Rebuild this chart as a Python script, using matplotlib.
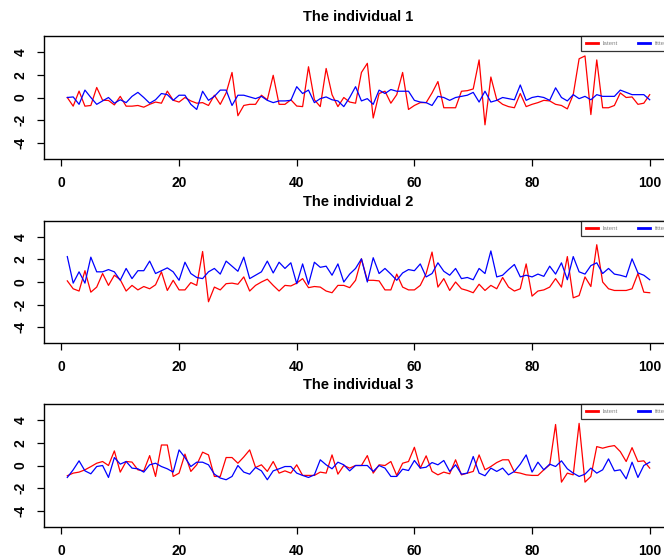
import matplotlib
matplotlib.use("Agg")
import matplotlib.pyplot as plt

plt.rcParams['font.family'] = ['Liberation Sans', 'DejaVu Sans']

x = list(range(1, 101))

titles = ["The individual 1", "The individual 2", "The individual 3"]
legend_labels = ["latent", "fitted"]
xticks = [0, 20, 40, 60, 80, 100]
yticks = [-4, -2, 0, 2, 4]

red1 = [0, -0.76, 0.56, -0.76, -0.7, 0.88, -0.24, -0.26, -0.65, 0.1,
        -0.76, -0.76, -0.7, -0.85, -0.6, -0.4, -0.5, 0.56, -0.24, -0.4,
        0, -0.3, -0.5, -0.45, -0.7, 0.2, -0.6, 0.4, 2.2, -1.6,
        -0.7, -0.6, -0.6, 0.2, -0.2, 1.95, -0.6, -0.6, -0.2, -0.75,
        -0.8, 2.7, -0.2, -0.8, 2.55, 0.25, -0.8, 0, -0.4, -0.5,
        2.2, 3.0, -1.8, 0.35, 0.55, -0.5, 0.25, 2.2, -1.05, -0.7,
        -0.45, -0.45, 0.4, 1.4, -0.9, -0.9, -0.9, 0.55, 0.6, 0.75,
        3.3, -2.4, 1.8, -0.2, -0.6, -0.8, -0.9, 0.35, -0.8, -0.6,
        -0.45, -0.25, -0.3, -0.6, -0.7, -1.0, 0.25, 3.4, 3.65, -1.5,
        3.3, -0.9, -0.9, -0.7, 0.4, 0, 0.05, -0.6, -0.5, 0.25]
blue1 = [0, 0.05, -0.6, 0.65, 0, -0.6, -0.3, 0, -0.5, -0.2,
         -0.45, 0.1, 0.45, 0, -0.5, -0.2, 0.35, 0.25, -0.25, 0.2,
         0.2, -0.6, -1.05, 0.55, -0.25, 0.1, 0.65, 0.65, -0.7, 0.2,
         0.2, 0.05, -0.1, 0.1, -0.25, -0.45, -0.3, -0.3, -0.25, 0.95,
         0.35, 0.65, -0.45, -0.1, 0.05, -0.2, -0.3, -0.8, 0, 0.95,
         -0.3, -0.1, -0.6, 0.65, 0.35, 0.7, 0.55, 0.55, 0.55, -0.25,
         -0.4, -0.45, -0.7, 0.1, 0, -0.25, 0, 0.1, 0.2, 0.45,
         -0.4, 0.55, -0.4, -0.25, 0, -0.1, -0.2, 1.1, -0.25, 0,
         0.1, 0, -0.25, 0.85, 0, -0.3, 0.25, -0.1, 0.1, -0.2,
         0.25, 0.1, 0.1, 0.1, 0.65, 0.45, 0.25, 0.25, 0.25, -0.2]

red2 = [0.1, -0.6, -0.8, 1.0, -0.9, -0.45, 0.75, -0.3, 0.6, 0.2,
        -0.8, -0.3, -0.7, -0.4, -0.6, -0.25, 0.9, -0.75, 0.15, -0.7,
        -0.7, -0.05, -0.3, 2.7, -1.75, -0.45, -0.7, -0.15, -0.1, -0.2,
        0.45, -0.8, -0.3, 0, 0.25, -0.3, -0.8, -0.3, -0.35, -0.1,
        0.3, -0.5, -0.4, -0.45, -0.8, -0.95, -0.3, -0.3, -0.5, 0.15,
        2.05, 0.15, 0.15, 0.1, -0.7, -0.7, 0.7, -0.45, -0.7, -0.7,
        -0.3, 0.75, 2.65, -0.45, 0.3, -0.75, 0, -0.6, -0.75, -0.95,
        -0.2, -0.75, -0.3, -0.6, 0.4, -0.45, -0.8, -0.6, 1.6, -1.25,
        -0.8, -0.7, -0.45, 0.3, -0.45, 2.25, -1.4, -1.2, 0.45, -0.4,
        3.3, 0, -0.6, -0.75, -0.75, -0.75, -0.6, 0.75, -0.9, -0.95]
blue2 = [2.25, -0.1, 0.9, -0.1, 2.2, 0.9, 0.9, 1.1, 0.9, 0.15,
         1.2, 0.3, 1.0, 1.0, 1.85, 0.75, 1.0, 1.25, 0.9, 0.15,
         1.75, 0.75, 0.4, 0.3, 0.9, 1.2, 0.7, 1.85, 1.4, 0.95,
         2.2, 0.3, 0.6, 0.9, 1.85, 0.8, 1.75, 1.2, 1.7, -0.15,
         1.6, -0.2, 1.75, 1.3, 1.4, 0.6, 1.6, 0, 0.7, 1.2,
         2.05, 0, 2.15, 0.75, 1.2, 0.7, 0.15, 0.8, 1.1, 1.0,
         1.6, 0.45, 0.75, 1.7, 0.95, 0.6, 1.2, 0.3, 0.4, 0.2,
         1.2, 0.75, 2.75, 0.45, 0.6, 1.1, 1.55, 0.45, 0.6, 0.45,
         0.7, 0.5, 1.4, 0.7, 1.7, 0.2, 2.25, 0.9, 0.7, 1.45,
         1.7, 0.75, 1.2, 0.7, 0.6, 0.45, 2.05, 0.8, 0.6, 0.2]

red3 = [-0.9, -0.67, -0.58, -0.38, -0.1, 0.2, 0.35, 0, 1.28, -0.58,
        0.35, 0.3, -0.38, -0.47, 0.87, -0.96, 1.8, 1.8, -0.96, -0.67,
        1.0, -0.52, 0.06, 1.17, 0.93, -0.96, -0.96, 0.7, 0.7, 0.2,
        0.75, 1.37, -0.17, 0.06, -0.52, 0.35, -0.67, -0.47, -0.67, 0.06,
        -0.87, -0.87, -0.87, -0.58, -0.67, 0.93, -0.76, 0, -0.23, 0,
        0, 0.87, -0.67, 0.06, 0, 0.35, -0.87, 0.2, 0.35, 1.6,
        -0.23, 0.85, -0.52, -0.82, -0.58, -0.73, 0.5, -0.82, -0.67, -0.52,
        0.93, -0.38, -0.09, 0.26, 0.5, 0.5, -0.58, -0.67, -0.82, -0.87,
        -0.87, -0.38, 0.06, 3.6, -1.46, -0.67, -0.82, 3.7, -1.46, -0.96,
        1.66, 1.52, 1.66, 1.75, 1.22, 0.35, 1.57, 0.35, 0.41, -0.23]
blue3 = [-1.05, -0.38, 0.41, -0.47, -0.73, -0.09, 0, -1.05, 0.7, 0.12,
         0.35, -0.23, -0.29, -0.58, 0.06, 0.2, -0.09, -0.29, -0.58, 1.37,
         0.7, -0.09, 0.29, 0.29, 0.06, -0.76, -1.1, -1.25, -0.96, 0,
         -0.58, -0.76, -0.17, -0.47, -1.25, -0.47, -0.29, -0.09, -0.09, -0.67,
         -0.87, -1.05, -0.82, 0.5, 0.06, -0.29, 0.29, 0.06, -0.47, 0,
         0, 0, -0.52, 0, -0.23, -0.96, -0.96, -0.32, -0.44, 0.44,
         -0.23, -0.15, 0.26, 0.06, 0.44, -0.52, 0.06, -0.76, -0.67, 0.79,
         -0.67, -0.9, -0.23, -0.52, -0.23, -0.82, -0.52, 0.12, 0.93, -0.58,
         0.29, -0.38, 0.12, -0.09, 0.41, -0.29, -0.67, -0.96, -0.76, -0.23,
         -0.67, -0.38, 0.58, -0.47, -0.38, -1.17, 0.29, -1.05, 0, 0.29]

reds = [red1, red2, red3]
blues = [blue1, blue2, blue3]

W, H = 664, 560
fig = plt.figure(figsize=(W / 100, H / 100), dpi=100)

# axes boxes in pixels (left, top, right, bottom)
boxes = [(44, 36, 673, 159), (44, 221, 673, 343), (44, 404, 673, 527)]

for k in range(3):
    l, t, r, b = boxes[k]
    ax = fig.add_axes([l / W, 1 - b / H, (r - l) / W, (b - t) / H])
    ax.plot(x, reds[k], color='red', lw=0.9, label=legend_labels[0])
    ax.plot(x, blues[k], color='blue', lw=0.9, label=legend_labels[1])
    ax.set_xlim(-2.96, 103.96)
    ax.set_ylim(-5.4, 5.4)
    ax.set_xticks(xticks)
    ax.set_yticks(yticks)
    ax.set_xticklabels([str(v) for v in xticks], fontsize=10, fontweight='bold')
    ax.set_yticklabels([str(v) for v in yticks], fontsize=10, fontweight='bold',
                       rotation=90, va='center')
    ax.tick_params(axis='both', direction='out', length=5, width=0.9, color='black')
    ax.tick_params(axis='x', pad=7)
    ax.tick_params(axis='y', pad=7)
    for s in ax.spines.values():
        s.set_linewidth(1.0)
        s.set_color('black')
    ax.set_title(titles[k], fontsize=10.5, fontweight='bold', pad=11)
    leg = ax.legend(loc='upper right', ncol=2, fontsize=4.5, frameon=True,
                    fancybox=False, borderaxespad=0, handlelength=1.9,
                    columnspacing=3.2, borderpad=0.75, handletextpad=0.8)
    leg.get_frame().set_edgecolor('black')
    leg.get_frame().set_linewidth(0.9)
    for line in leg.get_lines():
        line.set_linewidth(2)
    for txt in leg.get_texts():
        txt.set_color('#888888')

fig.savefig('out.png', dpi=100)
